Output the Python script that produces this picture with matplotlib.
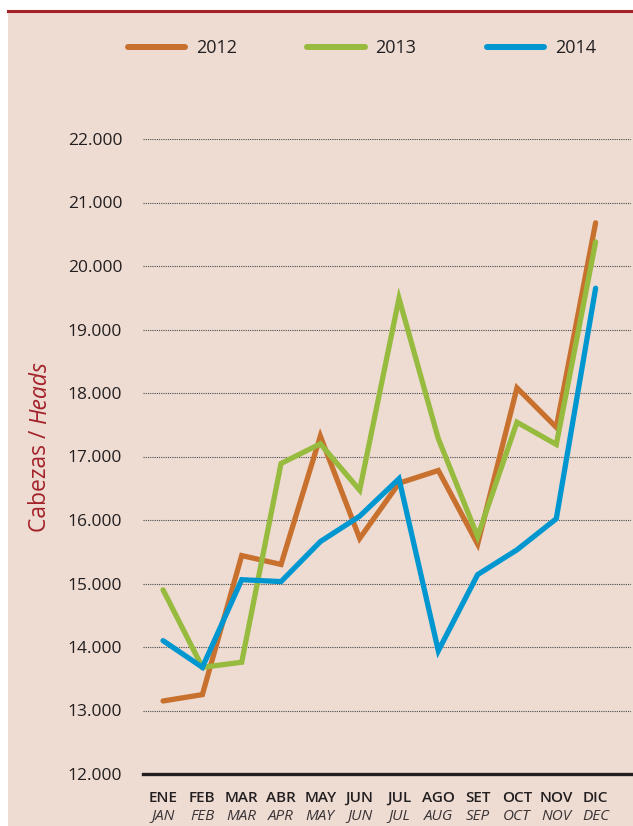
import matplotlib
matplotlib.use("Agg")
import matplotlib.pyplot as plt
from matplotlib.patches import Rectangle
from matplotlib.lines import Line2D
from matplotlib.ticker import FuncFormatter

plt.rcParams["font.family"] = ["Open Sans", "DejaVu Sans"]

months_es = ["ENE", "FEB", "MAR", "ABR", "MAY", "JUN", "JUL", "AGO", "SET", "OCT", "NOV", "DIC"]
months_en = ["JAN", "FEB", "MAR", "APR", "MAY", "JUN", "JUL", "AUG", "SEP", "OCT", "NOV", "DEC"]

heads2012 = [13150, 13250, 15440, 15300, 17320, 15710, 16580, 16780, 15620, 18080, 17460, 20680]
heads2013 = [14900, 13680, 13760, 16890, 17200, 16470, 19490, 17280, 15740, 17540, 17190, 20380]
heads2014 = [14100, 13680, 15060, 15030, 15660, 16060, 16650, 13940, 15140, 15530, 16020, 19650]

years = ["2012", "2013", "2014"]
colors = ["#C8702E", "#97BB3E", "#0097D0"]

bg = "#EEDCD3"
dark = "#231F20"
red = "#A3222A"

fig = plt.figure(figsize=(6.33, 8.26), dpi=100)
fig.patch.set_facecolor("white")
fig.patches.append(Rectangle((8 / 633, 0), 1, 1 - 11 / 826, transform=fig.transFigure,
                             facecolor=bg, edgecolor="none", zorder=-5))
fig.lines.append(Line2D([8 / 633, 1], [1 - 11 / 826, 1 - 11 / 826], transform=fig.transFigure,
                        color=red, linewidth=2.2, zorder=-4))

ax = fig.add_axes([143 / 633, 1 - 774 / 826, 488 / 633, 635 / 826])
ax.set_facecolor("none")
ax.set_zorder(1)

x = list(range(len(months_es)))
lines = []
for vals, c in zip([heads2012, heads2013, heads2014], colors):
    ln, = ax.plot(x, vals, color=c, linewidth=3.8, solid_capstyle="round",
                  solid_joinstyle="miter", clip_on=False, zorder=3)
    lines.append(ln)

ax.set_xlim(-0.51, 11.9)
ax.set_ylim(12000, 22000)
ax.set_yticks(range(12000, 22001, 1000))
ax.yaxis.set_major_formatter(FuncFormatter(lambda v, p: f"{int(v):,}".replace(",", ".")))
ax.grid(axis="y", linestyle=(0, (1, 1)), linewidth=0.8, color="#4a4a4a")
ax.set_axisbelow(True)

for s in ["top", "right", "left"]:
    ax.spines[s].set_visible(False)
ax.spines["bottom"].set_linewidth(2.4)
ax.spines["bottom"].set_color(dark)
ax.spines["bottom"].set_zorder(4)

ax.tick_params(axis="y", length=0, pad=15, labelsize=12.5, labelcolor=dark)
ax.set_xticks(x)
ax.set_xticklabels(months_es, fontsize=11, fontweight="semibold", color=dark)
ax.tick_params(axis="x", length=0, pad=12)
for i, m in enumerate(months_en):
    ax.text(i, -42 / 635, m, transform=ax.get_xaxis_transform(), ha="center", va="center",
            fontsize=11, fontstyle="italic", color="#3a3436")

leg = fig.legend(lines, years, loc="center left", bbox_to_anchor=(128 / 633, 1 - 48 / 826),
                 ncol=3, frameon=False, fontsize=13, handlelength=3.17, handletextpad=0.6,
                 columnspacing=3.9, borderpad=0, borderaxespad=0, labelcolor=dark)
for h in leg.get_lines():
    h.set_linewidth(4.3)

# y label: "Cabezas / " regular + "Heads" italic
t1 = fig.text(40 / 633, 1 - 532 / 826, "Cabezas / ", rotation=90, ha="center", va="bottom",
              fontsize=16.5, color=red)
fig.canvas.draw()
ext = t1.get_window_extent()
t2 = fig.text(40 / 633, ext.y1 / fig.bbox.height, "Heads", rotation=90, ha="center", va="bottom",
              fontsize=16.5, fontstyle="italic", color=red)

fig.savefig("out.png", dpi=100, facecolor=fig.get_facecolor())
